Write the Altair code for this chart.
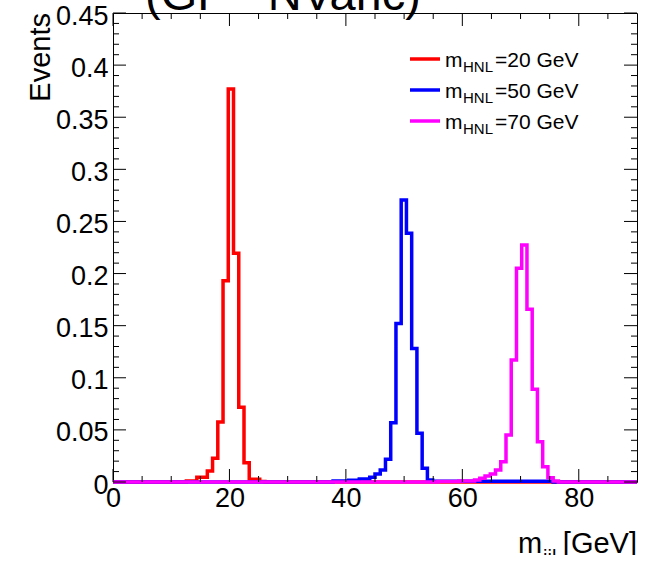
import altair as alt
import pandas as pd

FONT = "Liberation Sans"

# ---------------- data ----------------
BIN_WIDTH = 0.9
N_BINS = 100

red_start = 14
red_vals = [0.001, 0.001, 0.0045, 0.0045, 0.0106, 0.0227, 0.0576, 0.193, 0.377,
            0.2195, 0.0717, 0.0185, 0.0026, 0.0026, 0.0005]

blue_start = 42
blue_vals = [0.001, 0.001, 0.001, 0.0016, 0.0016, 0.0029, 0.0029, 0.0045, 0.0077,
             0.0115, 0.0218, 0.0569, 0.152, 0.2706, 0.2387, 0.128, 0.0467, 0.0131,
             0.002, 0.0008, 0.0008, 0.0008, 0.0008, 0.0008, 0.0008, 0.0008, 0.0008,
             0.0008, 0.0008, 0.0008, 0.0008, 0.0008, 0.0008, 0.0008, 0.0008, 0.0008,
             0.0008, 0.0008, 0.0008, 0.0008, 0.0008, 0.0008]

magenta_start = 62
magenta_vals = [0.0005, 0.0005, 0.0005, 0.0005, 0.001, 0.001, 0.001, 0.002, 0.0035,
                0.0058, 0.0077, 0.0115, 0.0195, 0.045, 0.117, 0.205, 0.2275, 0.1657,
                0.089, 0.0387, 0.0147, 0.004, 0.001]

series_names = ["20", "50", "70"]
series_colors = ["#ff0000", "#0000ff", "#ff00ff"]
series_starts = [red_start, blue_start, magenta_start]
series_values = [red_vals, blue_vals, magenta_vals]

x_major = [0, 20, 40, 60, 80]
x_minor = [5, 10, 15, 25, 30, 35, 45, 50, 55, 65, 70, 75, 85]
y_major = [0, 0.05, 0.1, 0.15, 0.2, 0.25, 0.3, 0.35, 0.4, 0.45]
y_minor = [round(i * 0.01, 2) for i in range(1, 45) if i % 5 != 0]

title_text = "(GF - NVaric)"
y_title = "Events"
x_title_main = "m"
x_title_sub = "jjl"
x_title_unit = "[GeV]"

# ---------------- layout ----------------
W, H = 524, 469
xscale = alt.Scale(domain=[0, 90], nice=False, zero=False)
yscale = alt.Scale(domain=[0, 0.45], nice=False, zero=True)

X_AXIS = alt.Axis(values=x_major, ticks=False, domain=False, grid=False, title=None,
                  labelFontSize=27, labelFont=FONT, labelColor="black", labelPadding=3,
                  labelFlush=False, labelOverlap=False)
Y_AXIS = alt.Axis(values=y_major, format=".2~f", ticks=False, domain=False, grid=False,
                  title=None, labelFontSize=27, labelFont=FONT, labelColor="black",
                  labelPadding=5, labelOffset=3, labelFlush=False, labelOverlap=False)


def hist_frame(start, vals):
    full = [0.0] * N_BINS
    for i, v in enumerate(vals):
        full[start + i] = v
    edges = [round(k * BIN_WIDTH, 4) for k in range(N_BINS + 1)]
    return pd.DataFrame({"edge": edges, "value": full + [full[-1]]})


layers = []
for start, vals, col in zip(series_starts, series_values, series_colors):
    df = hist_frame(start, vals)
    layers.append(
        alt.Chart(df).mark_line(interpolate="step-after", color=col, strokeWidth=3.5,
                                strokeJoin="miter", strokeCap="butt")
        .encode(x=alt.X("edge:Q", scale=xscale, axis=X_AXIS),
                y=alt.Y("value:Q", scale=yscale, axis=Y_AXIS))
    )


# ---------------- inward ticks on all four sides ----------------
def xticks(vals, length):
    df = pd.DataFrame({"v": vals})
    xe = alt.X("v:Q", scale=xscale, axis=X_AXIS)
    bottom = alt.Chart(df).mark_rule(color="black", strokeWidth=1).encode(
        x=xe, y=alt.value(H), y2=alt.value(H - length))
    top = alt.Chart(df).mark_rule(color="black", strokeWidth=1).encode(
        x=xe, y=alt.value(0), y2=alt.value(length))
    return [bottom, top]


def yticks(vals, length):
    df = pd.DataFrame({"v": vals})
    ye = alt.Y("v:Q", scale=yscale, axis=Y_AXIS)
    left = alt.Chart(df).mark_rule(color="black", strokeWidth=1).encode(
        y=ye, x=alt.value(0), x2=alt.value(length))
    right = alt.Chart(df).mark_rule(color="black", strokeWidth=1).encode(
        y=ye, x=alt.value(W), x2=alt.value(W - length))
    return [left, right]


tick_layers = xticks(x_major, 13) + xticks(x_minor, 6) + yticks(y_major, 13) + yticks(y_minor, 6)

# ---------------- texts ----------------
one = pd.DataFrame({"t": [""]})


def text(s, x, y, size, align="left", baseline="alphabetic", angle=0, color="black"):
    kw = dict(font=FONT, fontSize=size, align=align, baseline=baseline, color=color)
    if angle:
        kw["angle"] = angle
    return alt.Chart(pd.DataFrame({"t": [s]})).mark_text(**kw).encode(
        x=alt.value(x), y=alt.value(y), text="t:N")


text_layers = [
    text(title_text, 170, -3, 47, align="center"),
    text(y_title, -63, 0, 29, align="right", angle=270),
    text(x_title_main, 405, 540, 29),
    text(x_title_sub, 430, 551, 20),
    text(x_title_unit, 524, 540, 29, align="right"),
]

# legend
for i, (name, col) in enumerate(zip(series_names, series_colors)):
    yc = 46 + 31 * i
    text_layers.append(
        alt.Chart(one).mark_rule(color=col, strokeWidth=3.5).encode(
            x=alt.value(297), x2=alt.value(327), y=alt.value(yc)))
    text_layers.append(text("m", 332, yc + 7.5, 21))
    text_layers.append(text("HNL", 350, yc + 13, 15))
    text_layers.append(text("=" + name + " GeV", 382, yc + 7.5, 21))

chart = alt.layer(*layers, *tick_layers, *text_layers).properties(
    width=W, height=H,
    autosize=alt.AutoSizeParams(type="none"),
    padding={"left": 113, "top": 13, "right": 15, "bottom": 73},
    background="white",
).configure_view(stroke="black", strokeWidth=1)

chart.save("out.html", embed_options={"renderer": "svg", "actions": False})
